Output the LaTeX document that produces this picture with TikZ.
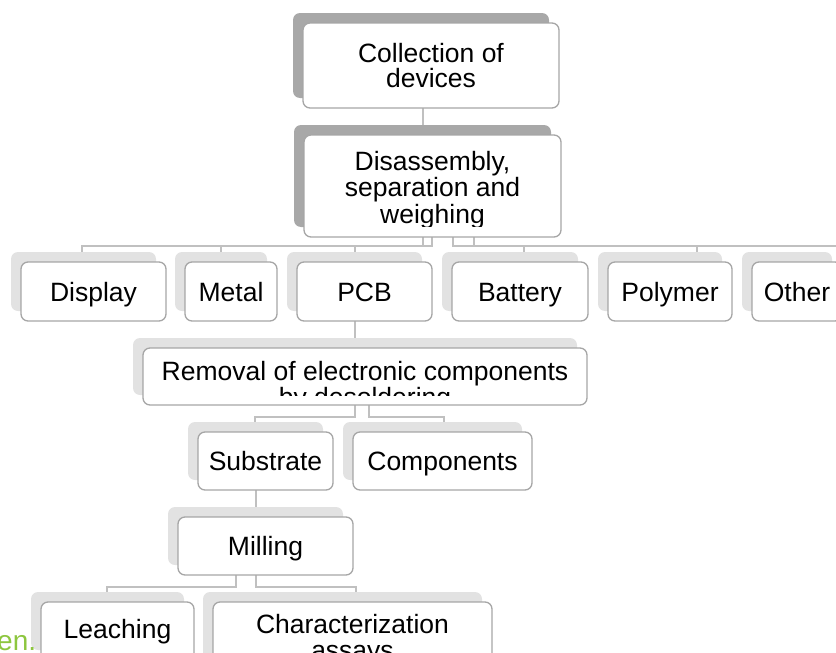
\documentclass[tikz,border=0pt]{standalone}
\usepackage{fontspec}
\setmainfont{Liberation Sans}
\usetikzlibrary{backgrounds}
\definecolor{cline}{HTML}{C0C0C0}
\definecolor{bord}{HTML}{A6A6A6}
\definecolor{backdark}{HTML}{A8A8A8}
\definecolor{backlight}{HTML}{E2E2E2}
\definecolor{grn}{HTML}{8DC63F}
\newcommand\mkbox[6]{%
  \fill[#6, rounded corners=7pt] ({#2-#4/2-10},{#3-#5/2-10}) rectangle ({#2+#4/2-10},{#3+#5/2-10});
  \node[frontbox, minimum width=#4pt, minimum height=#5pt] (#1) at (#2,#3) {};
}
\begin{document}
\begin{tikzpicture}[x=1pt,y=-1pt,
  link/.style={draw=cline, line width=2pt},
  frontbox/.style={draw=bord, line width=1.3pt, fill=white, rounded corners=7pt, inner sep=0pt, outer sep=0pt},
  lbl/.style={font=\fontsize{26.5}{26.5}\selectfont, inner sep=0pt, anchor=base}]
\useasboundingbox (0,0) rectangle (836,653);
% boxes
\mkbox{coll}{431}{65.5}{256}{85}{backdark}
\mkbox{dis}{432.5}{186}{257}{102}{backdark}
\mkbox{display}{93.5}{291.5}{145}{59}{backlight}
\mkbox{metal}{231}{291.5}{92}{59}{backlight}
\mkbox{pcb}{364.5}{291.5}{135}{59}{backlight}
\mkbox{battery}{520}{291.5}{136}{59}{backlight}
\mkbox{polymer}{670}{291.5}{124}{59}{backlight}
\mkbox{other}{797}{291.5}{90}{59}{backlight}
\mkbox{removal}{365}{376.5}{444}{57}{backlight}
\mkbox{substrate}{265.5}{461}{135}{58}{backlight}
\mkbox{components}{442.5}{461}{179}{58}{backlight}
\mkbox{milling}{265.5}{546}{175}{58}{backlight}
\mkbox{leaching}{117.5}{631}{153}{58}{backlight}
\mkbox{charac}{352.5}{642}{279}{80}{backlight}
% named coordinates for connector positions
\coordinate (xA) at (423,0);
\coordinate (xB) at (432,0);
\coordinate (xC) at (453,0);
\coordinate (xD) at (474,0);
\coordinate (d1) at (82,0);
\coordinate (d2) at (221,0);
\coordinate (d3) at (355,0);
\coordinate (d4) at (524,0);
\coordinate (d5) at (697,0);
\coordinate (d6) at (850,0);
\coordinate (r1) at (369,0);
\coordinate (s1) at (255,0);
\coordinate (s2) at (444,0);
\coordinate (m0) at (256,0);
\coordinate (m1) at (236,0);
\coordinate (l1) at (107,0);
\coordinate (l2) at (356,0);
\coordinate (h1) at (0,246);
\coordinate (h2) at (0,417);
\coordinate (h3) at (0,587);
\begin{pgfonlayer}{background}
\draw[link] (coll.south -| xA) -- (dis.north -| xA);
\draw[link] (dis.south -| xA) |- (h1 -| d1) -- (display.north -| d1);
\draw[link] (dis.south -| xA) |- (h1 -| d2) -- (metal.north -| d2);
\draw[link] (dis.south -| xB) |- (h1 -| d3) -- (pcb.north -| d3);
\draw[link] (dis.south -| xC) |- (h1 -| d4) -- (battery.north -| d4);
\draw[link] (dis.south -| xD) |- (h1 -| d5) -- (polymer.north -| d5);
\draw[link] (dis.south -| xD) |- (h1 -| d6) -- (other.north -| d6);
\draw[link] (pcb.south -| d3) -- (removal.north -| d3);
\draw[link] (removal.south -| d3) |- (h2 -| s1) -- (substrate.north -| s1);
\draw[link] (removal.south -| r1) |- (h2 -| s2) -- (components.north -| s2);
\draw[link] (substrate.south -| m0) -- (milling.north -| m0);
\draw[link] (milling.south -| m1) |- (h3 -| l1) -- (leaching.north -| l1);
\draw[link] (milling.south -| m0) |- (h3 -| l2) -- (charac.north -| l2);
\end{pgfonlayer}
% labels
\node[lbl] (tc1) at (431,62) {Collection of};
\node[lbl] (tc2) at (431,87) {devices};
\begin{scope}
\clip (304,135) rectangle (561,226);
\node[lbl] (td1) at (432.5,170) {Disassembly,};
\node[lbl] (td2) at (432.5,196.5) {separation and};
\node[lbl] (td3) at (432.5,223) {weighing};
\end{scope}
\node[lbl] (tdisp) at (93.5,301) {Display};
\node[lbl] (tmet) at (231,301) {Metal};
\node[lbl] (tpcb) at (364.5,301) {PCB};
\node[lbl] (tbat) at (520,301) {Battery};
\node[lbl] (tpol) at (670,301) {Polymer};
\node[lbl] (toth) at (797,301) {Other};
\begin{scope}
\clip (143,348) rectangle (587,395);
\node[lbl] (tr1) at (365,380) {Removal of electronic components};
\node[lbl] (tr2) at (365,406) {by desoldering};
\end{scope}
\node[lbl] (tsub) at (265.5,470.5) {Substrate};
\node[lbl] (tcomp) at (442.5,470.5) {Components};
\node[lbl] (tmill) at (265.5,555.5) {Milling};
\node[lbl] (tleach) at (117.5,638) {Leaching};
\node[lbl] (tch1) at (352.5,633) {Characterization};
\node[lbl] (tch2) at (352.5,659) {assays};
\node[font=\fontsize{28}{28}\selectfont, text=grn, anchor=base west, inner sep=0pt] (green) at (-3,650) {en.};
\end{tikzpicture}
\end{document}
